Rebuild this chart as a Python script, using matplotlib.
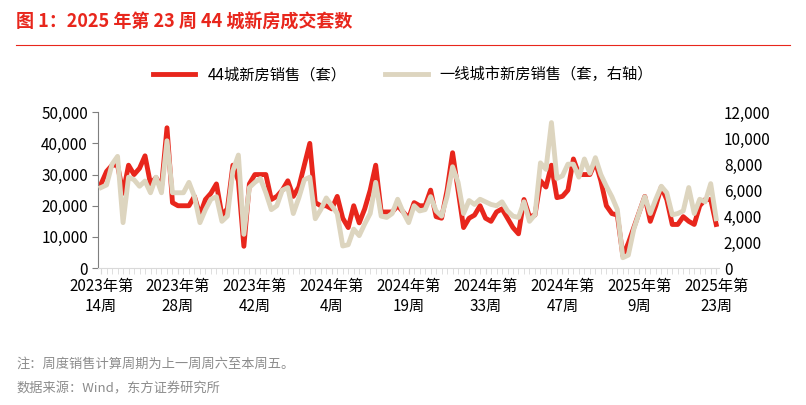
import matplotlib
matplotlib.use('Agg')
import matplotlib.pyplot as plt
from matplotlib.ticker import FuncFormatter

plt.rcParams['font.family'] = 'Noto Sans CJK SC'

# 44城新房销售（套）
city44 = [27, 31, 33, 33, 24, 33, 30, 32, 36, 27, 29, 26, 45, 21, 20, 20, 20, 23, 17, 22,
          24, 27, 17, 19, 33, 28, 7, 27, 30, 30, 30, 22, 23, 25, 28, 23, 26, 33, 40, 21,
          20, 20, 19, 23, 16, 13, 20, 14.5, 19, 25, 33, 18, 18, 18, 20, 18, 16, 21, 20, 20,
          25, 16.5, 16, 25, 37, 25, 13, 16, 17, 20, 16, 15, 18, 19, 16, 13, 11, 22, 16.5, 17,
          28, 26, 33, 22.6, 23, 25, 35, 30, 30, 30, 34, 28, 20, 17.5, 17, 4, 8, 13, 18, 23,
          15, 20, 26, 22, 14, 14, 16.5, 15, 14, 20, 22, 22, 14]
city44 = [v * 1000 for v in city44]
# 一线城市新房销售（套，右轴）
tier1 = [6.2, 6.4, 8.0, 8.6, 3.5, 7.0, 6.8, 6.3, 6.7, 5.8, 7.0, 5.8, 9.8, 5.8, 5.8, 5.8, 6.6, 5.5, 3.5, 4.5,
         5.3, 5.5, 3.6, 4.0, 7.5, 8.7, 2.6, 6.2, 6.6, 6.9, 5.8, 4.5, 4.8, 6.0, 6.2, 4.2, 5.4, 6.8, 7.0, 3.8,
         4.5, 5.4, 4.8, 4.2, 1.7, 1.8, 3.0, 2.5, 3.4, 4.2, 6.6, 4.0, 3.9, 4.2, 5.3, 4.3, 3.5, 4.8, 4.4, 4.5,
         5.5, 4.4, 4.0, 5.5, 7.8, 6.6, 4.2, 5.2, 4.9, 5.3, 5.1, 4.9, 4.8, 5.1, 4.4, 4.0, 3.9, 5.1, 3.6, 4.1,
         8.1, 7.6, 11.2, 6.9, 7.1, 8.0, 8.0, 7.0, 8.4, 7.3, 8.5, 7.2, 6.3, 5.5, 4.5, 0.8, 1.0, 3.0, 4.3, 5.5,
         4.2, 5.3, 6.3, 5.8, 4.1, 4.2, 4.4, 6.2, 4.2, 5.3, 5.1, 6.5, 3.8]
tier1 = [v * 1000 for v in tier1]
tick_labels = ['2023年第\n14周', '2023年第\n28周', '2023年第\n42周', '2024年第\n4周', '2024年第\n19周',
               '2024年第\n33周', '2024年第\n47周', '2025年第\n9周', '2025年第\n23周']

x = list(range(len(city44)))
fig = plt.figure(figsize=(8.06, 4.05), dpi=100)
ax = fig.add_axes([0.122, 0.338, 0.77, 0.385])
ax2 = ax.twinx()
red = '#e8261c'
beige = '#ddd5bf'
l1, = ax.plot(x, city44, color=red, lw=3.5, label='44城新房销售（套）', zorder=2)
l2, = ax2.plot(x, tier1, color=beige, lw=3.5, label='一线城市新房销售（套，右轴）', zorder=3)
ax.set_zorder(ax2.get_zorder() + 1)
ax.patch.set_visible(False)
# draw red above beige like reference: red under beige mostly? keep beige on top
ax.set_zorder(0); ax2.set_zorder(1)

ax.set_ylim(0, 50000)
ax2.set_ylim(0, 12000)
ax.set_yticks(range(0, 50001, 10000))
ax2.set_yticks(range(0, 12001, 2000))
fmt = FuncFormatter(lambda v, p: f'{int(v):,}')
ax.yaxis.set_major_formatter(fmt)
ax2.yaxis.set_major_formatter(fmt)
ax.set_xlim(-0.5, len(x) - 0.5)
ax.set_xticks(x[::14])
ax.set_xticklabels(tick_labels)
ax.set_xticks(x, minor=True)
ax.tick_params(axis='x', which='both', color='#d9d9d9', length=4, labelsize=11, pad=3)
ax.tick_params(axis='y', labelsize=11, color='#7f7f7f', length=4)
ax2.tick_params(axis='y', labelsize=11, length=0)
for a in (ax, ax2):
    for s in ('top', 'right'):
        a.spines[s].set_visible(False)
ax2.spines['left'].set_visible(False)
ax2.spines['bottom'].set_visible(False)
ax.spines['left'].set_color('#7f7f7f')
ax.spines['bottom'].set_color('#d9d9d9')

fig.legend(handles=[l1, l2], loc='center', bbox_to_anchor=(0.5, 0.815), ncol=2, frameon=False,
           fontsize=11, handlelength=2.8, columnspacing=2.5)

fig.text(0.02, 0.945, '图 1：2025 年第 23 周 44 城新房成交套数', color=red, fontsize=13, fontweight='bold',
         va='center')
fig.add_artist(plt.Line2D([0.02, 0.98], [0.89, 0.89], color=red, lw=0.8))
fig.text(0.02, 0.1, '注：周度销售计算周期为上一周周六至本周五。', color='#8c8c8c', fontsize=9.5, va='center')
fig.text(0.02, 0.04, '数据来源：Wind，东方证券研究所', color='#8c8c8c', fontsize=9.5, va='center')

plt.savefig('out.png', dpi=100)
